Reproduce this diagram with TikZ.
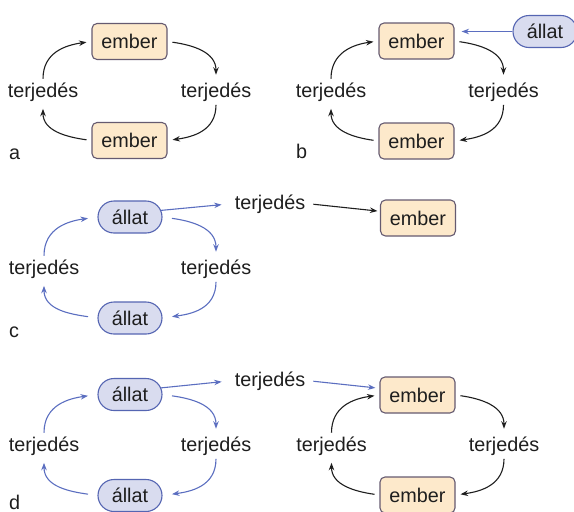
\documentclass[tikz,border=0pt]{standalone}
\usepackage{fontspec}
\setmainfont{Liberation Sans}
\usetikzlibrary{arrows.meta,shapes.misc}

\definecolor{emberfill}{HTML}{FDE9CB}
\definecolor{emberdraw}{HTML}{655A70}
\definecolor{allatfill}{HTML}{D9DCEF}
\definecolor{allatdraw}{HTML}{5565B2}
\definecolor{bluearrow}{HTML}{5B6EC0}
\definecolor{ink}{HTML}{1E1E1E}

% four curved arrows running round a cycle:
% #1 arrow style, #2 top node, #3 bottom node, #4 left label, #5 right label, #6 gap at the boxes
\newcommand\ringarrows[6]{%
  \draw[#1, shorten >=#6] (#4.north) to[out=90,in=188,looseness=1.1] (#2.west);
  \draw[#1, shorten <=#6, shorten >=4pt] (#2.east) to[out=-8,in=90,looseness=1.1] (#5.north);
  \draw[#1, shorten >=#6] (#5.south) to[out=-90,in=8,looseness=1.1] (#3.east);
  \draw[#1, shorten <=#6, shorten >=4pt] (#3.west) to[out=172,in=-90,looseness=1.1] (#4.south);
}

\begin{document}
\begin{tikzpicture}[x=1pt,y=1pt,
  txt/.style={font=\fontsize{19.8}{22}\selectfont, text=ink},
  ember/.style={txt, draw=emberdraw, fill=emberfill, line width=1.1pt,
    rounded corners=5pt, minimum width=75pt, minimum height=36pt, inner sep=0pt},
  allat/.style={txt, rounded rectangle, draw=allatdraw, fill=allatfill, line width=1.1pt,
    minimum width=64pt, minimum height=32pt, inner sep=0pt},
  lbl/.style={txt, anchor=base, inner sep=3.5pt},
  tag/.style={txt, anchor=base west, inner sep=0pt},
  blackarr/.style={draw=ink, line width=1.1pt, -{Stealth[length=7.5pt,width=5.5pt]}},
  bluearr/.style={draw=bluearrow, line width=1.1pt, -{Stealth[length=7.5pt,width=5.5pt]}},
]
\useasboundingbox (0,0) rectangle (574,-512);

% a: human to human
\node[ember] (aTop) at (129.5,-41.5) {ember};
\node[ember] (aBot) at (129.5,-140.5) {ember};
\node[lbl] (aL) at (43,-97) {terjedés};
\node[lbl] (aR) at (216,-97) {terjedés};
\node[tag] (aTag) at (9,-159) {a};
\ringarrows{blackarr}{aTop}{aBot}{aL}{aR}{5pt}

% b: human cycle with an animal source
\node[ember] (bTop) at (416.5,-41) {ember};
\node[ember] (bBot) at (416.5,-141) {ember};
\node[lbl] (bL) at (331,-97) {terjedés};
\node[lbl] (bR) at (503.5,-97) {terjedés};
\node[allat] (bSrc) at (545,-31.5) {állat};
\node[tag] (bTag) at (296,-158.5) {b};
\ringarrows{blackarr}{bTop}{bBot}{bL}{bR}{5pt}
\draw[bluearr, shorten >=7pt] (bSrc.west) -- (bSrc.west -| bTop.east);

% c: animal cycle spilling over to a human
\node[allat] (cTop) at (130,-217) {állat};
\node[allat] (cBot) at (130,-318) {állat};
\node[lbl] (cL) at (44,-274) {terjedés};
\node[lbl] (cR) at (216,-274) {terjedés};
\node[lbl] (cMid) at (270,-209) {terjedés};
\node[ember] (cHost) at (418,-218) {ember};
\node[tag] (cTag) at (9,-337) {c};
\ringarrows{bluearr}{cTop}{cBot}{cL}{cR}{9.5pt}
\draw[bluearr, shorten >=9.5pt] (cTop.12) -- (cMid.west);
\draw[blackarr, shorten <=4.5pt, shorten >=2.5pt] (cMid.east) -- (cHost.170);

% d: animal cycle feeding a human cycle
\node[allat] (dTop) at (130,-394.5) {állat};
\node[allat] (dBot) at (130,-495.5) {állat};
\node[lbl] (dL) at (44,-451) {terjedés};
\node[lbl] (dR) at (216,-451) {terjedés};
\node[lbl] (dMid) at (270,-386) {terjedés};
\node[ember] (dTop2) at (417.5,-395) {ember};
\node[ember] (dBot2) at (417.5,-495) {ember};
\node[lbl] (dL2) at (331.5,-451) {terjedés};
\node[lbl] (dR2) at (504,-451) {terjedés};
\node[tag] (dTag) at (9,-509) {d};
\ringarrows{bluearr}{dTop}{dBot}{dL}{dR}{9.5pt}
\ringarrows{blackarr}{dTop2}{dBot2}{dL2}{dR2}{5pt}
\draw[bluearr, shorten >=9.5pt] (dTop.12) -- (dMid.west);
\draw[bluearr, shorten <=4.5pt, shorten >=4pt] (dMid.east) -- (dTop2.170);
\end{tikzpicture}
\end{document}
